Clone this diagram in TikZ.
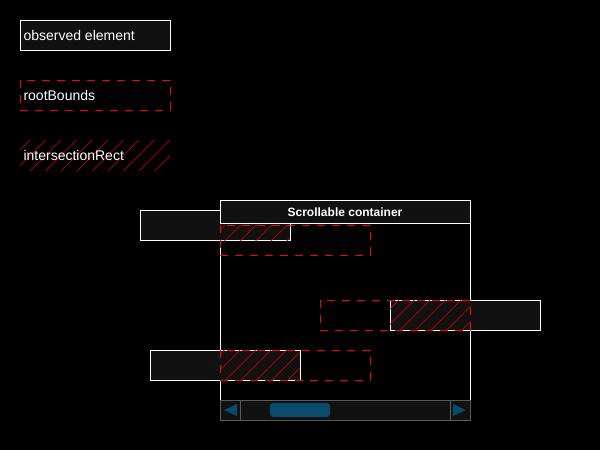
\documentclass[tikz,border=0pt]{standalone}
\usepackage{fontspec}
\setmainfont{Liberation Sans}
\usetikzlibrary{patterns.meta}
\definecolor{boxfill}{HTML}{111111}
\definecolor{barblue}{HTML}{0A4A6A}
\tikzset{
  observed/.style={draw=white,fill=boxfill,line width=1pt},
  rootbounds/.style={draw=red,dash pattern=on 8pt off 7pt,line width=1pt},
  hatched/.style={pattern={Lines[angle=45,distance=11pt,line width=0.7pt]},pattern color=red!75!black},
  label/.style={text=white,font=\fontsize{14}{16}\selectfont,anchor=west}
}
\begin{document}
\begin{tikzpicture}[x=1pt,y=-1pt]
  \fill[black] (0,0) rectangle (600,450);
  \useasboundingbox (0,0) rectangle (600,450);
  % legend
  \draw[observed] (20,20) rectangle (170,50);
  \node[label] (lobs) at (20,35) {observed element};
  \draw[rootbounds] (20,80) rectangle (170,110);
  \node[label] (lroot) at (20,95) {rootBounds};
  \fill[hatched] (20,140) rectangle (170,170);
  \node[label] (lint) at (20,155) {intersectionRect};
  % container body
  \draw[white,line width=1pt] (220,200) rectangle (470,400);
  % observed elements
  \foreach \x/\y/\rx/\hx/\hy/\hw/\hh in {140/210/220/220/225/70/15, 390/300/320/390/300/80/30, 150/350/220/220/350/80/30}
  {
    \draw[observed] (\x,\y) rectangle ++(150,30);
    \fill[hatched] (\hx,\hy) rectangle ++(\hw,\hh);
  }
  \draw[rootbounds] (220,225) rectangle (370,255);
  \draw[rootbounds] (320,300) rectangle (470,330);
  \draw[rootbounds] (220,350) rectangle (370,380);
  % header
  \draw[observed] (220,200) rectangle (470,223);
  \node[text=white,font=\bfseries\fontsize{12}{14}\selectfont] (head) at (345,212) {Scrollable container};
  % scrollbar
  \draw[fill=boxfill,draw=gray!70!black] (220,400) rectangle (470,420);
  \draw[draw=gray!70!black] (240,400) -- (240,420) (450,400) -- (450,420);
  \fill[barblue] (224,410) -- (237,404) -- (237,416) -- cycle;
  \fill[barblue] (466,410) -- (453,404) -- (453,416) -- cycle;
  \fill[barblue,rounded corners=3pt] (270,403) rectangle (330,417);
\end{tikzpicture}
\end{document}
